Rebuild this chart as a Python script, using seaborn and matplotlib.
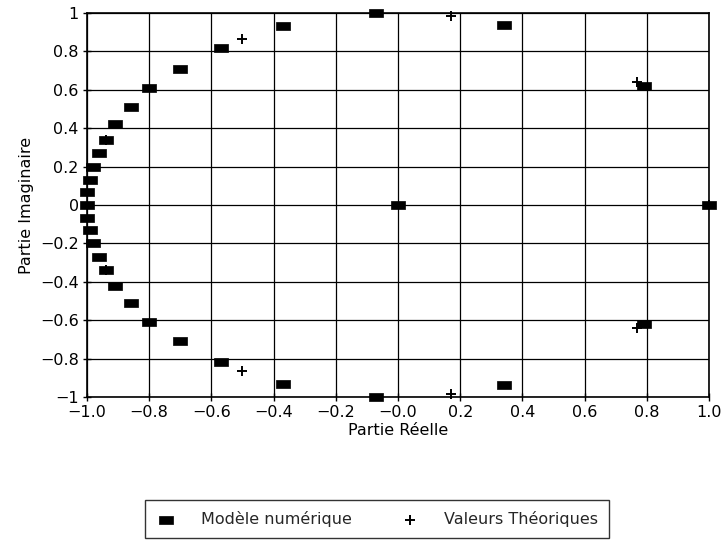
import numpy as np
import pandas as pd
import matplotlib
matplotlib.use("Agg")
import matplotlib.pyplot as plt
import seaborn as sns
from matplotlib.path import Path

# ---- data ----
num_x = [1.0, 0.79, 0.34, -0.07, -0.37, -0.57, -0.70, -0.80, -0.86, -0.91, -0.94, -0.96,
         -0.98, -0.99, -1.0, -1.0, -1.0, -0.99, -0.98, -0.96, -0.94, -0.91, -0.86, -0.80,
         -0.70, -0.57, -0.37, -0.07, 0.34, 0.79, 0.0]
num_y = [0.0, 0.62, 0.94, 1.0, 0.93, 0.82, 0.71, 0.61, 0.51, 0.42, 0.34, 0.27,
         0.20, 0.13, 0.07, 0.0, -0.07, -0.13, -0.20, -0.27, -0.34, -0.42, -0.51, -0.61,
         -0.71, -0.82, -0.93, -1.0, -0.94, -0.62, 0.0]
theo_x = [1.0, 0.77, 0.17, -0.50, -0.94, -0.94, -0.50, 0.17, 0.77]
theo_y = [0.0, 0.64, 0.985, 0.866, 0.34, -0.34, -0.866, -0.985, -0.64]

x_ticks = [-1.0, -0.8, -0.6, -0.4, -0.2, 0.0, 0.2, 0.4, 0.6, 0.8, 1.0]
x_labels = ["\u22121.0", "\u22120.8", "\u22120.6", "\u22120.4", "\u22120.2", "\u22120.0",
            "0.2", "0.4", "0.6", "0.8", "1.0"]
y_ticks = [-1.0, -0.8, -0.6, -0.4, -0.2, 0.0, 0.2, 0.4, 0.6, 0.8, 1.0]
y_labels = ["\u22121", "\u22120.8", "\u22120.6", "\u22120.4", "\u22120.2", "0",
            "0.2", "0.4", "0.6", "0.8", "1"]

label_num = "Modèle numérique"
label_theo = "Valeurs Théoriques"

df_num = pd.DataFrame({"x": num_x, "y": num_y})
df_theo = pd.DataFrame({"x": theo_x, "y": theo_y})

sns.set_theme(style="white")
plt.rcParams["font.family"] = ["DejaVu Sans"]

fig = plt.figure(figsize=(7.24, 5.41), dpi=100)
ax = fig.add_axes([87 / 724, 1 - 397 / 541, 622 / 724, 384 / 541])

rect = Path([(-1, -0.62), (1, -0.62), (1, 0.62), (-1, 0.62), (-1, -0.62)],
            [Path.MOVETO, Path.LINETO, Path.LINETO, Path.LINETO, Path.CLOSEPOLY])

sns.scatterplot(data=df_num, x="x", y="y", marker=rect, s=95, color="black",
                edgecolor="black", linewidth=0.5, ax=ax, label=label_num,
                clip_on=False, zorder=3)
sns.scatterplot(data=df_theo, x="x", y="y", marker="+", s=60, color="black",
                linewidth=1.4, ax=ax, label=label_theo, clip_on=False, zorder=4)

ax.set_xlim(-1, 1)
ax.set_ylim(-1, 1)
ax.set_xticks(x_ticks)
ax.set_xticklabels(x_labels, fontsize=11.5)
ax.set_yticks(y_ticks)
ax.set_yticklabels(y_labels, fontsize=11.5)
ax.tick_params(axis="both", direction="inout", length=6, width=1, color="black",
               labelcolor="black", bottom=True, left=True, pad=3)
ax.grid(True, color="black", linewidth=0.9)
ax.set_axisbelow(True)
for sp in ax.spines.values():
    sp.set_color("black")
    sp.set_linewidth(1.2)

ax.set_xlabel("Partie Réelle", fontsize=11.5, color="black", labelpad=2)
ax.set_ylabel("Partie Imaginaire", fontsize=11.5, color="black", labelpad=4)

handles, labels = ax.get_legend_handles_labels()
ax.get_legend().remove()
leg = fig.legend(handles, labels, loc="upper center", ncol=2,
                 bbox_to_anchor=(377 / 724, 1 - 500 / 541),
                 frameon=True, fancybox=False, edgecolor="black",
                 fontsize=11.5, columnspacing=3.0, handletextpad=1.5,
                 borderpad=0.7, borderaxespad=0, handlelength=1.3)
leg.get_frame().set_linewidth(1.0)

fig.savefig("out.png", dpi=100)
